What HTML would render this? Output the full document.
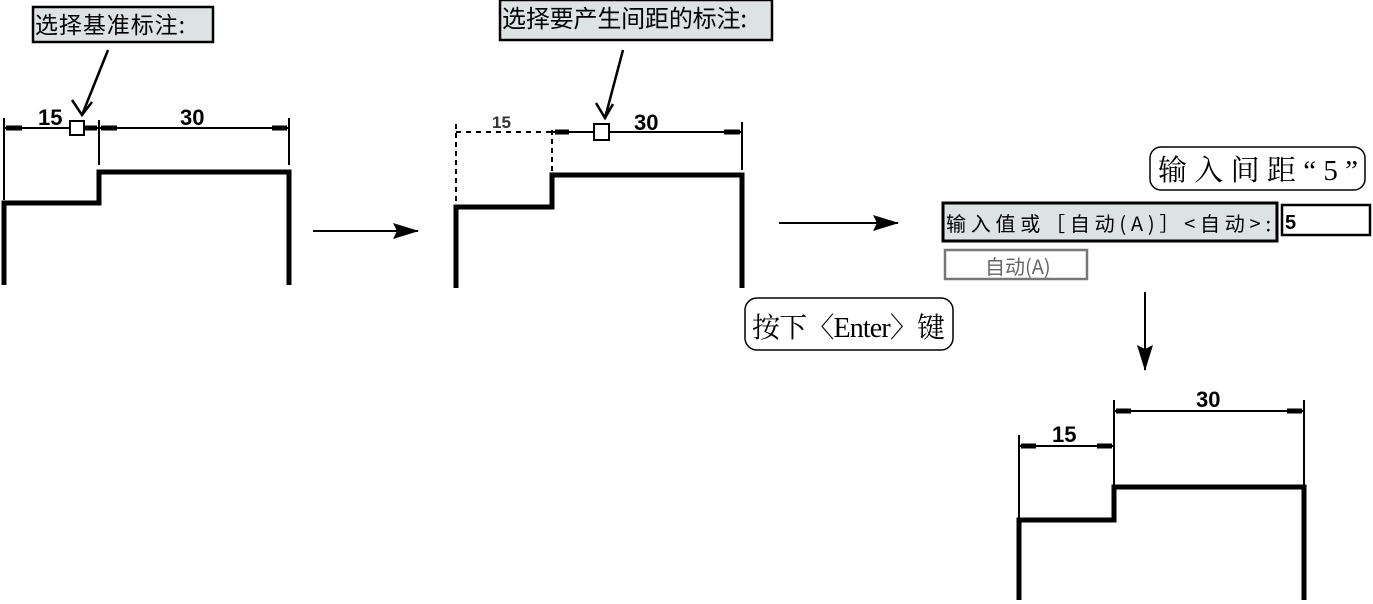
<!DOCTYPE html>
<html><head><meta charset="utf-8"><style>
body{margin:0;background:#fff;}
svg{display:block;}
text{font-family:"Liberation Sans","Noto Sans CJK SC",sans-serif;}
.cjk{font-family:"Noto Sans CJK SC",sans-serif;}
.ser{font-family:"Liberation Serif","Noto Serif CJK SC",serif;}
</style></head><body>
<svg width="1373" height="604" viewBox="0 0 1373 604" xmlns="http://www.w3.org/2000/svg">
<defs>
<marker id="big" markerWidth="26" markerHeight="16" refX="25" refY="8" orient="auto" markerUnits="userSpaceOnUse"><path d="M0,0 L26,8 L0,16 L4,8 z" fill="#000"/></marker>
</defs>
<g stroke="#000" fill="none">
<rect x="33" y="7" width="180" height="35" fill="#dde2e3" stroke-width="2.5"/>
<line x1="108" y1="50" x2="82" y2="115" stroke-width="2.5"/>
<path d="M72,100 L82,115 L92,102" stroke-width="2.5"/>
<line x1="4" y1="118" x2="4" y2="200" stroke-width="2"/>
<line x1="99" y1="120" x2="99" y2="165" stroke-width="2"/>
<line x1="289" y1="118" x2="289" y2="165" stroke-width="2"/>
<line x1="4" y1="128" x2="99" y2="128" stroke-width="2"/>
<line x1="99" y1="128" x2="289" y2="128" stroke-width="2"/>
<path d="M6,128 h16 M84,128 h13 M101,128 h16 M272,128 h15" stroke-width="5"/>
<rect x="70" y="121" width="14" height="14" stroke-width="2" fill="#fff"/>
<path d="M4,285 V203 H99 V172 H289 V285" stroke-width="5"/>
<line x1="313" y1="231" x2="418" y2="231" stroke-width="2" marker-end="url(#big)"/>
<rect x="500" y="0" width="272" height="40" fill="#dde2e3" stroke-width="2.5"/>
<line x1="623" y1="50" x2="605" y2="118" stroke-width="2.5"/>
<path d="M596,103 L605,118 L613,104" stroke-width="2.5"/>
<line x1="456" y1="124" x2="456" y2="205" stroke-width="2" stroke-dasharray="5,4"/>
<line x1="552" y1="130" x2="552" y2="175" stroke-width="2" stroke-dasharray="5,4"/>
<line x1="456" y1="132" x2="552" y2="132" stroke-width="2" stroke-dasharray="5,5"/>
<line x1="552" y1="132" x2="742" y2="132" stroke-width="2"/>
<line x1="742" y1="122" x2="742" y2="170" stroke-width="2"/>
<path d="M555,132 h14 M724,132 h16" stroke-width="5"/>
<rect x="594" y="124" width="15" height="16" stroke-width="2" fill="#fff"/>
<path d="M456,288 V207 H552 V175 H742 V288" stroke-width="5"/>
<line x1="779" y1="223" x2="898" y2="223" stroke-width="2" marker-end="url(#big)"/>
<rect x="745" y="298" width="208" height="52" rx="12" stroke-width="1.5"/>
<rect x="1150" y="147" width="215" height="43" rx="11" stroke-width="1.5"/>
<rect x="943" y="203" width="334" height="38" fill="#dde2e3" stroke-width="3"/>
<rect x="1282" y="205" width="88" height="30" fill="#fff" stroke-width="2.5"/>
<rect x="945" y="250" width="142" height="29" fill="#fff" stroke="#777" stroke-width="2.5"/>
<line x1="1145" y1="292" x2="1145" y2="370" stroke-width="2" marker-end="url(#big)"/>
<line x1="1019" y1="435" x2="1019" y2="520" stroke-width="2"/>
<line x1="1114" y1="400" x2="1114" y2="487" stroke-width="2"/>
<line x1="1304" y1="400" x2="1304" y2="487" stroke-width="2"/>
<line x1="1019" y1="446" x2="1114" y2="446" stroke-width="2"/>
<line x1="1114" y1="411" x2="1304" y2="411" stroke-width="2"/>
<path d="M1021,446 h15 M1097,446 h15 M1116,411 h15 M1287,411 h15" stroke-width="5"/>
<path d="M1019,600 V520 H1114 V487 H1304 V600" stroke-width="5"/>
</g>
<g fill="#000">
<text x="35" y="33" font-size="23" class="cjk" textLength="150">选择基准标注:</text>
<text x="38" y="125" font-size="22" font-weight="bold">15</text>
<text x="180" y="125" font-size="22" font-weight="bold">30</text>
<text x="502" y="27" font-size="24" class="cjk" textLength="245">选择要产生间距的标注:</text>
<text x="492" y="128" font-size="17" font-weight="bold" fill="#333">15</text>
<text x="634" y="130" font-size="22" font-weight="bold">30</text>
<text x="752" y="337" font-size="28" class="ser" textLength="193">按下〈Enter〉键</text>
<text x="1158" y="180" font-size="29" class="ser" textLength="200">输入间距“5”</text>
<text x="946" y="231" font-size="20" class="cjk" textLength="325">输入值或［自动(A)］&lt;自动&gt;:</text>
<text x="1285" y="229" font-size="20" font-weight="bold">5</text>
<text x="985" y="274" font-size="20" class="cjk" fill="#666">自动(A)</text>
<text x="1052" y="442" font-size="22" font-weight="bold">15</text>
<text x="1196" y="407" font-size="22" font-weight="bold">30</text>
</g>
</svg>
</body></html>
